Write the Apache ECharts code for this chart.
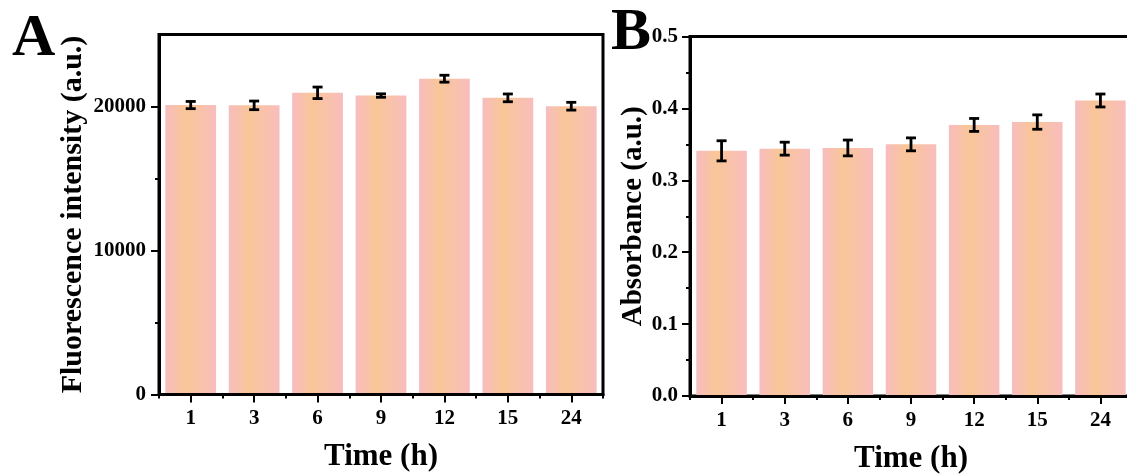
<!DOCTYPE html>
<html><head><meta charset="utf-8">
<script src="https://cdn.jsdelivr.net/npm/echarts@6/dist/echarts.min.js"></script>
<style>html,body{margin:0;padding:0;background:#fff}#c{width:1127px;height:476px}</style>
</head><body><div id="c"></div>
<script>
const categories = ['1', '3', '6', '9', '12', '15', '24'];
const fluorescence = [20100, 20080, 20950, 20760, 21930, 20600, 20020];
const fluorescenceErr = [250, 300, 400, 120, 240, 270, 270];
const absorbance = [0.341, 0.344, 0.345, 0.350, 0.377, 0.381, 0.411];
const absorbanceErr = [0.014, 0.009, 0.011, 0.009, 0.009, 0.010, 0.009];
const majorTicksA = [0, 10000, 20000];
const minorTicksA = [5000, 15000];

const FONT = '"Liberation Serif", "Times New Roman", serif';
const black = '#000';
const barGradient = new echarts.graphic.LinearGradient(0, 0, 1, 0, [
  { offset: 0, color: '#F7BCBE' },
  { offset: 0.4, color: '#F9C697' },
  { offset: 1, color: '#F8BDBD' }
]);

function errRender(params, api) {
  const idx = api.value(0), v = api.value(1), e = api.value(2);
  const t = api.coord([idx, v + e]);
  const b = api.coord([idx, v - e]);
  const hw = 5;
  const st = { stroke: black, lineWidth: 2.8 };
  return { type: 'group', children: [
    { type: 'line', shape: { x1: t[0], y1: t[1], x2: b[0], y2: b[1] }, style: st },
    { type: 'line', shape: { x1: t[0] - hw, y1: t[1], x2: t[0] + hw, y2: t[1] }, style: st },
    { type: 'line', shape: { x1: b[0] - hw, y1: b[1], x2: b[0] + hw, y2: b[1] }, style: st }
  ]};
}

const labelStyle = { fontFamily: FONT, fontWeight: 'bold', fontSize: 21, color: black };
const nameStyle = { fontFamily: FONT, fontWeight: 'bold', fontSize: 30, color: black };
const axisLine = { show: true, onZero: false, lineStyle: { color: black, width: 3 } };

function mainX(gi) {
  return {
    gridIndex: gi, type: 'category', data: categories, position: 'bottom', z: 10,
    axisLine: axisLine,
    axisTick: { show: true, alignWithLabel: true, length: 8, lineStyle: { color: black, width: 2 } },
    axisLabel: Object.assign({ margin: 14 }, labelStyle),
    name: 'Time (h)', nameLocation: 'middle', nameGap: 47,
    nameTextStyle: Object.assign({}, nameStyle, { fontSize: 31 })
  };
}
function boundX(gi) {
  return {
    gridIndex: gi, type: 'category', data: categories, position: 'bottom', z: 10,
    axisLine: { show: false },
    axisTick: { show: true, length: 4, lineStyle: { color: black, width: 2 } },
    axisLabel: { show: false }, splitLine: { show: false }
  };
}

const option = {
  animation: false,
  backgroundColor: '#fff',
  grid: [
    { left: 159, width: 444, top: 34.5, height: 360, outerBoundsMode: 'none', containLabel: false,
      show: true, borderColor: black, borderWidth: 3, backgroundColor: 'transparent' },
    { left: 690, width: 442, top: 36.5, height: 359.5, outerBoundsMode: 'none', containLabel: false,
      show: true, borderColor: black, borderWidth: 3, backgroundColor: 'transparent' }
  ],
  xAxis: [mainX(0), boundX(0), mainX(1), boundX(1)],
  yAxis: [
    {
      gridIndex: 0, type: 'value', min: 0, max: 25000, interval: 5000, position: 'left', z: 10,
      axisLine: axisLine,
      axisTick: { show: true, length: 8, customValues: majorTicksA, lineStyle: { color: black, width: 2 } },
      axisLabel: Object.assign({ margin: 13, customValues: majorTicksA, formatter: v => String(v) }, labelStyle),
      splitLine: { show: false },
      name: 'Fluorescence intensity (a.u.)', nameLocation: 'middle', nameGap: 71, nameTextStyle: nameStyle
    },
    {
      gridIndex: 0, type: 'value', min: 0, max: 25000, interval: 5000, position: 'left', z: 10,
      axisLine: { show: false },
      axisTick: { show: true, length: 4, customValues: minorTicksA, lineStyle: { color: black, width: 2 } },
      axisLabel: { show: false }, splitLine: { show: false }
    },
    {
      gridIndex: 1, type: 'value', min: 0, max: 0.5, interval: 0.1, position: 'left', z: 10,
      axisLine: axisLine,
      axisTick: { show: true, length: 8, lineStyle: { color: black, width: 2 } },
      minorTick: { show: true, splitNumber: 2, length: 4, lineStyle: { color: black, width: 2 } },
      minorSplitLine: { show: false },
      axisLabel: Object.assign({ margin: 12, formatter: v => v.toFixed(1) }, labelStyle),
      splitLine: { show: false },
      name: 'Absorbance (a.u.)', nameLocation: 'middle', nameGap: 40, nameTextStyle: Object.assign({}, nameStyle, { fontSize: 29 })
    }
  ],
  series: [
    { type: 'bar', xAxisIndex: 0, yAxisIndex: 0, data: fluorescence, barCategoryGap: '20%', itemStyle: { color: barGradient }, z: 1 },
    { type: 'custom', xAxisIndex: 0, yAxisIndex: 0, renderItem: errRender, z: 5,
      encode: { x: 0, y: 1 },
      data: categories.map((c, i) => [i, fluorescence[i], fluorescenceErr[i]]) },
    { type: 'bar', xAxisIndex: 2, yAxisIndex: 2, data: absorbance, barCategoryGap: '20%', itemStyle: { color: barGradient }, z: 1 },
    { type: 'custom', xAxisIndex: 2, yAxisIndex: 2, renderItem: errRender, z: 5,
      encode: { x: 0, y: 1 },
      data: categories.map((c, i) => [i, absorbance[i], absorbanceErr[i]]) }
  ],
  graphic: [
    { type: 'text', left: 12, top: 9, style: { text: 'A', font: 'bold 60px ' + FONT, fill: black } },
    { type: 'text', left: 611, top: 3, style: { text: 'B', font: 'bold 60px ' + FONT, fill: black } }
  ]
};

const chart = echarts.init(document.getElementById('c'));
chart.setOption(option);
</script>
</body></html>
